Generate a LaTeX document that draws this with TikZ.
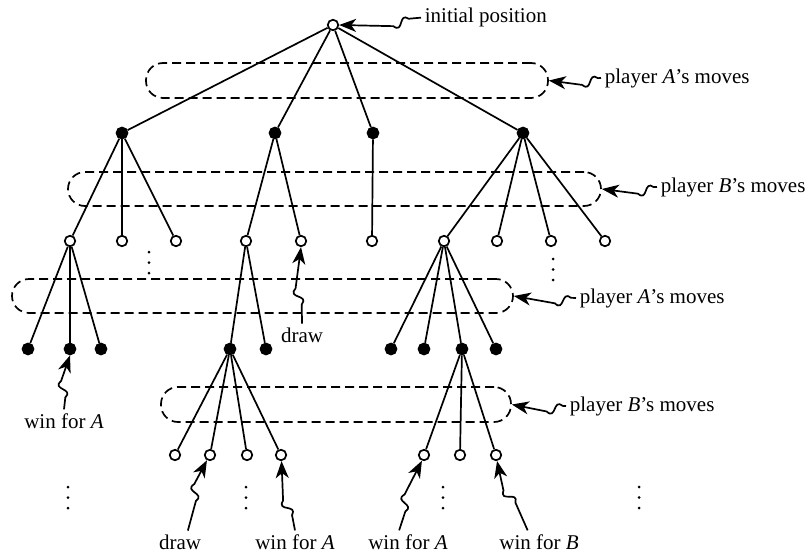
\documentclass[tikz,border=0pt]{standalone}
\usepackage{fontspec}
\setmainfont{Liberation Serif}
\usetikzlibrary{arrows.meta,calc}

\tikzset{
  open/.style={circle, draw, fill=white, inner sep=0pt, minimum size=10.5pt},
  blk/.style={circle, draw, fill=black, inner sep=0pt, minimum size=11pt},
  movebox/.style={draw, dash pattern=on 9pt off 5pt, rounded corners=17pt, inner sep=0pt},
  lbl/.style={font=\fontsize{21}{25}\selectfont, inner sep=3pt},
  squig/.style={-{Stealth[length=17pt, width=13pt, inset=5pt]}, to path={
    -- ($(\tikztostart)!#1!(\tikztotarget)$)
    .. controls ($(\tikztostart)!#1!(\tikztotarget)!10pt!(\tikztotarget)!8pt!-90:(\tikztotarget)$)
    and ($(\tikztostart)!#1!(\tikztotarget)!6pt!(\tikztotarget)!15pt!90:(\tikztotarget)$)
    .. ($(\tikztostart)!#1!(\tikztotarget)!16pt!(\tikztotarget)!6pt!90:(\tikztotarget)$)
    -- (\tikztotarget)}},
  squig/.default=0.3
}

\begin{document}
\begin{tikzpicture}[x=1pt, y=-1pt, line width=1.7pt]
  \useasboundingbox (0,0) rectangle (811,557);
  % game tree, top to bottom
  \node[open] (r) at (333,25) {};
  \foreach \n/\x in {x1/122, x2/275, x3/373, x4/523}
    \node[blk] (\n) at (\x,133) {};
  \foreach \n/\x in {x11/70, x12/122, x13/176, x21/246, x22/301, x31/372, x41/444, x42/497, x43/551, x44/605}
    \node[open] (\n) at (\x,241) {};
  \foreach \n/\x in {x111/28, x112/70, x113/101, x211/230, x212/266, x411/391, x412/424, x413/462, x414/496}
    \node[blk] (\n) at (\x,349) {};
  \foreach \n/\x in {x2111/175, x2112/210, x2113/247, x2114/281, x4131/424, x4132/460, x4133/496}
    \node[open] (\n) at (\x,455) {};
  \foreach \a/\b in {r/x1, r/x2, r/x3, r/x4,
      x1/x11, x1/x12, x1/x13, x2/x21, x2/x22, x3/x31, x4/x41, x4/x42, x4/x43, x4/x44,
      x11/x111, x11/x112, x11/x113, x21/x211, x21/x212, x41/x411, x41/x412, x41/x413, x41/x414,
      x211/x2111, x211/x2112, x211/x2113, x211/x2114, x413/x4131, x413/x4132, x413/x4133}
    \draw (\a) -- (\b);

  % dashed groups of moves
  \node[movebox, minimum width=402pt, minimum height=35pt] (mA1) at (347,80.5) {};
  \node[movebox, minimum width=533pt, minimum height=34pt] (mB1) at (334.5,189) {};
  \node[movebox, minimum width=501pt, minimum height=34pt] (mA2) at (262.5,296) {};
  \node[movebox, minimum width=350pt, minimum height=35pt] (mB2) at (336,404.5) {};

  % vertical dots
  \foreach \x/\y in {149/252, 553/259, 68/487, 246/487, 443/487, 639/487}
    \foreach \d in {0,10.5,21}
      \fill (\x,\y+\d) circle (1.5pt);

  % labels
  \node[lbl, anchor=base west] (init) at (421,22.7) {initial position};
  \node[lbl, anchor=base west] (pA1) at (601,83) {player \textit{A}'s moves};
  \node[lbl, anchor=base west] (pB1) at (657,192) {player \textit{B}'s moves};
  \node[lbl, anchor=base west] (pA2) at (576,303) {player \textit{A}'s moves};
  \node[lbl, anchor=base west] (pB2) at (566,411) {player \textit{B}'s moves};
  \node[lbl, anchor=base] (dr1) at (302,342) {draw};
  \node[lbl, anchor=base] (wA1) at (64,428) {win for \textit{A}};
  \node[lbl, anchor=base] (dr2) at (180,549) {draw};
  \node[lbl, anchor=base] (wA2) at (295,549) {win for \textit{A}};
  \node[lbl, anchor=base] (wA3) at (408,549) {win for \textit{A}};
  \node[lbl, anchor=base] (wB) at (539,549) {win for \textit{B}};

  % wavy pointers
  \draw[squig=0.15] (init.west) to (r.east);
  \draw[squig=0.06] (pA1.west) to (mA1.east);
  \draw[squig=0.06] (pB1.west) to (mB1.east);
  \draw[squig=0.08] (pA2.west) to (mA2.east);
  \draw[squig=0.06] (pB2.west) to (mB2.east);
  \draw[squig=0.25] (dr1.north) to (x22.-90);
  \draw[squig=0.22] (wA1.north) to (x112.-90);
  \draw[squig=0.42] (dr2.55) to (x2112.-120);
  \draw[squig=0.22] (wA2.north) to (x2114.-85);
  \draw[squig=0.27] (wA3.128) to (x4131.-110);
  \draw[squig=0.4] (wB.135) to (x4133.-80);
\end{tikzpicture}
\end{document}
